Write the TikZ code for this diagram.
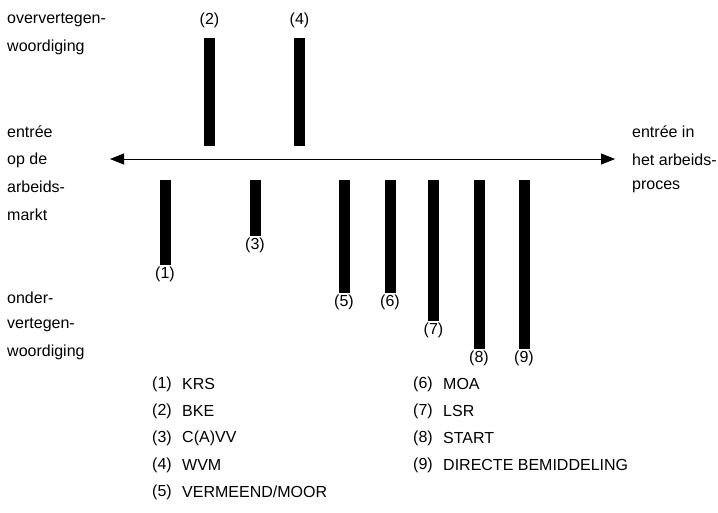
\documentclass[tikz,border=0pt]{standalone}
\usepackage{fontspec}
\setmainfont{Liberation Sans}
\usetikzlibrary{arrows.meta,positioning}

\begin{document}
\begin{tikzpicture}
  [x=1pt,y=-1pt,>={Triangle[length=14pt,width=11pt]},%坐标以像素为单位,y轴向下
   bar/.style={rectangle,fill=black,minimum width=11pt,inner sep=0pt,anchor=north},%黑色竖条
   nummer/.style={inner sep=1pt,font=\fontsize{16}{18}\selectfont},%条形的编号
   tekst/.style={anchor=west,inner sep=0pt,font=\fontsize{16}{18}\selectfont},%左右两侧的文字
   legenda/.style={tekst}]%图例
  \useasboundingbox (0,0) rectangle (718,512);

  % 左侧文字
  \node [tekst] (t1) at (7,20)   {oververtegen-};
  \node [tekst] (t2) at (7,47)   {woordiging};
  \node [tekst] (t3) at (7,132)  {entrée};
  \node [tekst] (t4) at (7,160)  {op de};
  \node [tekst] (t5) at (7,187)  {arbeids-};
  \node [tekst] (t6) at (7,215)  {markt};
  \node [tekst] (t7) at (7,298)  {onder-};
  \node [tekst] (t8) at (7,325)  {vertegen-};
  \node [tekst] (t9) at (7,352)  {woordiging};

  % 右侧文字
  \node [tekst] (r1) at (632,132) {entrée in};
  \node [tekst] (r2) at (632,160) {het arbeids-};
  \node [tekst] (r3) at (632,187) {proces};

  % 横轴
  \coordinate (links)  at (110,159);
  \coordinate (rechts) at (615,159);
  \draw [<->,line width=0.8pt] (links) -- (rechts);

  % 竖条:上方为过度代表,下方为代表不足
  \node [bar,minimum height=108pt] (b2) at (209.5,38)  {};
  \node [bar,minimum height=108pt] (b4) at (299.5,38)  {};
  \node [bar,minimum height=85pt]  (b1) at (165,180)   {};
  \node [bar,minimum height=56pt]  (b3) at (255,180)   {};
  \node [bar,minimum height=113pt] (b5) at (344,180)   {};
  \node [bar,minimum height=113pt] (b6) at (390,180)   {};
  \node [bar,minimum height=141pt] (b7) at (433.5,180) {};
  \node [bar,minimum height=169pt] (b8) at (479,180)   {};
  \node [bar,minimum height=169pt] (b9) at (524,180)   {};

  \node [nummer,above=9pt of b2] (n2) {(2)};
  \node [nummer,above=9pt of b4] (n4) {(4)};
  \node [nummer,below=0pt of b1]  (n1) {(1)};
  \node [nummer,below=0pt of b3]  (n3) {(3)};
  \node [nummer,below=0pt of b5]  (n5) {(5)};
  \node [nummer,below=0pt of b6]  (n6) {(6)};
  \node [nummer,below=0pt of b7]  (n7) {(7)};
  \node [nummer,below=0pt of b8]  (n8) {(8)};
  \node [nummer,below=0pt of b9]  (n9) {(9)};

  % 图例
  \foreach \nr/\naam [count=\i] in {1/KRS,2/BKE,3/C(A)VV,4/WVM,5/VERMEEND\slash MOOR}
    {\node [legenda] (l\nr) at (152,357+27*\i) {(\nr)};
     \node [legenda] (m\nr) at (182,357+27*\i) {\naam};}
  \foreach \nr/\naam [count=\i] in {6/MOA,7/LSR,8/START,9/DIRECTE BEMIDDELING}
    {\node [legenda] (l\nr) at (413,357+27*\i) {(\nr)};
     \node [legenda] (m\nr) at (443,357+27*\i) {\naam};}
\end{tikzpicture}
\end{document}
